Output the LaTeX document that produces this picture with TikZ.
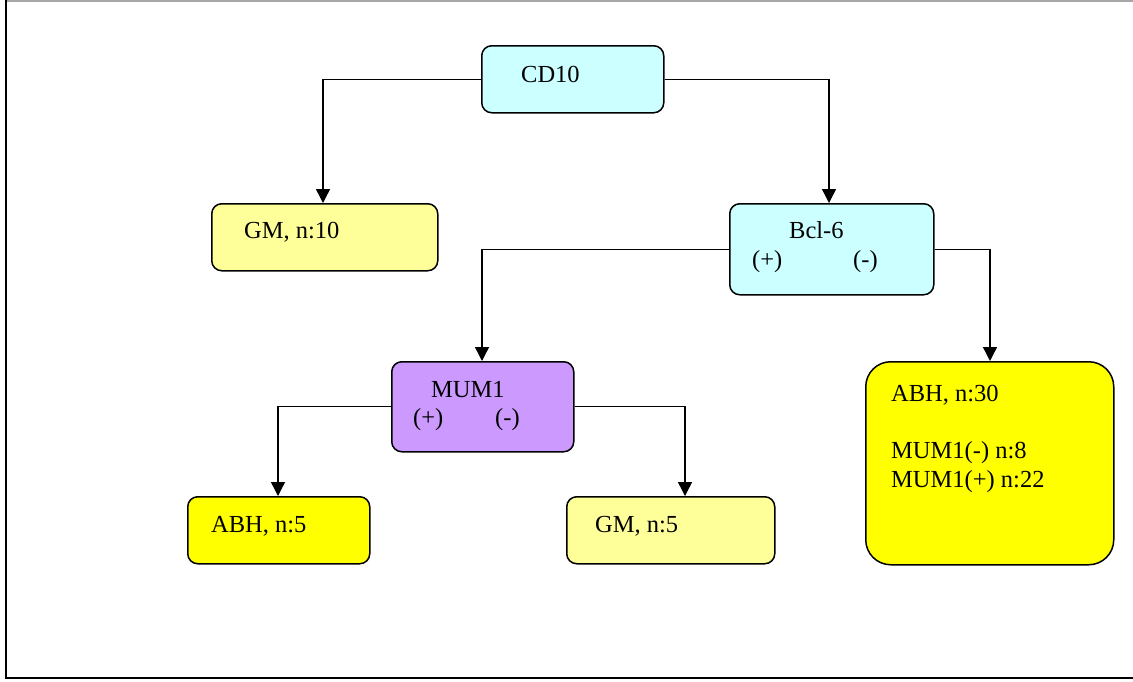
\documentclass[tikz,border=0pt]{standalone}
\usepackage{fontspec}
\setmainfont{Liberation Serif}
\usetikzlibrary{arrows.meta}
\definecolor{lcyan}{HTML}{CCFFFF}
\definecolor{lyel}{HTML}{FFFF99}
\definecolor{yel}{HTML}{FFFF00}
\definecolor{purp}{HTML}{CC99FF}
\begin{document}
\begin{tikzpicture}[x=1pt,y=-1pt,
  box/.style={draw=black,line width=1.5pt,rounded corners=10pt,inner sep=0pt,anchor=north west},
  txt/.style={anchor=base west,inner sep=0pt,font=\fontsize{24.5}{28}\selectfont},
  conn/.style={line width=1.4pt,-{Triangle[length=14pt,width=14pt]}}]
\useasboundingbox (0,0) rectangle (1133,681);
\fill[white] (0,0) rectangle (1133,681);
% frame
\draw[gray!70,line width=1.5pt] (6,0.8) -- (1133,0.8);
\draw[black,line width=2pt] (6,0) -- (6,678) -- (1133,678);
% boxes
\node[box,fill=lcyan,minimum width=182pt,minimum height=67pt] (cd10) at (481,45) {};
\node[box,fill=lyel,minimum width=226pt,minimum height=67pt] (gm10) at (211,203) {};
\node[box,fill=lcyan,minimum width=204pt,minimum height=91pt] (bcl) at (729,203) {};
\node[box,fill=purp,minimum width=182pt,minimum height=90pt] (mum) at (391,361) {};
\node[box,fill=yel,rounded corners=25pt,minimum width=248pt,minimum height=203pt] (abh30) at (865,361) {};
\node[box,fill=yel,minimum width=182pt,minimum height=67pt] (abh5) at (187,496) {};
\node[box,fill=lyel,minimum width=208pt,minimum height=67pt] (gm5) at (566,496) {};
% texts
\node[txt] (t1) at (521,82) {CD10};
\node[txt] (t2) at (244,238) {GM, n:10};
\node[txt] (t3) at (789,238) {Bcl-6};
\node[txt] (t4) at (752,267) {(+)};
\node[txt] (t5) at (853,267) {(-)};
\node[txt] (t6) at (431,397) {MUM1};
\node[txt] (t7) at (413,425) {(+)};
\node[txt] (t8) at (495,425) {(-)};
\node[txt] (t9) at (891,401) {ABH, n:30};
\node[txt] (t10) at (891,458) {MUM1(-) n:8};
\node[txt] (t11) at (891,487) {MUM1(+) n:22};
\node[txt] (t12) at (211,532) {ABH, n:5};
\node[txt] (t13) at (595,532) {GM, n:5};
% connectors
\coordinate (c1) at (323,0);
\coordinate (c2) at (829,0);
\coordinate (c3) at (482,0);
\coordinate (c4) at (990,0);
\coordinate (c5) at (278,0);
\coordinate (c6) at (685,0);
\draw[conn] (cd10.west) -| (c1 |- gm10.north);
\draw[conn] (cd10.east) -| (c2 |- bcl.north);
\draw[conn] (bcl.west) -| (c3 |- mum.north);
\draw[conn] (bcl.east) -| (c4 |- abh30.north);
\draw[conn] (mum.west) -| (c5 |- abh5.north);
\draw[conn] (mum.east) -| (c6 |- gm5.north);
\end{tikzpicture}
\end{document}
